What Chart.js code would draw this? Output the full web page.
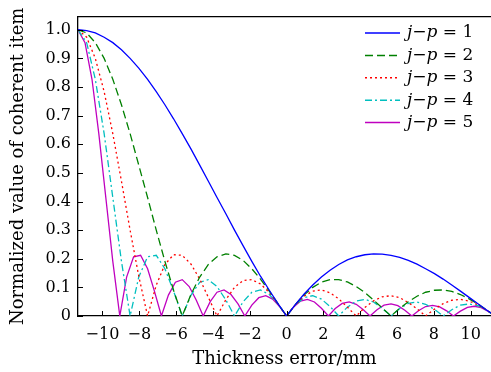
<!DOCTYPE html>
<html>
<head>
<meta charset="utf-8">
<script src="https://cdn.jsdelivr.net/npm/chart.js@4.4.1/dist/chart.umd.min.js"></script>
<style>
  html, body { margin: 0; padding: 0; background: #fff; }
  #chart { display: block; }
</style>
</head>
<body>
<canvas id="chart" width="491" height="372"></canvas>
<script>
// Sample positions (thickness error, mm)
const xGrid24 = [-11.33, -10.86, -10.39, -9.91, -9.44, -8.97, -8.50, -8.03, -7.55, -7.08, -6.61, -6.14,
    -5.67, -5.19, -4.72, -4.25, -3.78, -3.30, -2.83, -2.36, -1.89, -1.42, -0.94, -0.47, 0,
    0.47, 0.94, 1.42, 1.89, 2.36, 2.83, 3.30, 3.78, 4.25, 4.72, 5.19, 5.67, 6.14,
    6.61, 7.08, 7.55, 8.03, 8.50, 8.97, 9.44, 9.91, 10.39, 10.86, 11.33];
const xGrid30 = [-11.33, -10.95, -10.57, -10.20, -9.82, -9.44, -9.06, -8.69, -8.31, -7.93, -7.55, -7.18,
    -6.80, -6.42, -6.04, -5.67, -5.29, -4.91, -4.53, -4.15, -3.78, -3.40, -3.02, -2.64, -2.27,
    -1.89, -1.51, -1.13, -0.76, -0.38, 0, 0.38, 0.76, 1.13, 1.51, 1.89, 2.27, 2.64, 3.02, 3.40,
    3.78, 4.15, 4.53, 4.91, 5.29, 5.67, 6.04, 6.42, 6.80, 7.18, 7.55, 7.93, 8.31, 8.69, 9.06,
    9.44, 9.82, 10.20, 10.57, 10.95, 11.33];

// Normalized coherent item, one list per j-p
const yJp1 = [1, 0.997, 0.989, 0.974, 0.955, 0.930, 0.900, 0.866, 0.827, 0.784, 0.738, 0.689, 0.637,
    0.583, 0.527, 0.471, 0.414, 0.357, 0.300, 0.245, 0.191, 0.139, 0.090, 0.043, 0,
    0.040, 0.076, 0.108, 0.136, 0.160, 0.180, 0.196, 0.207, 0.214, 0.217, 0.216, 0.212,
    0.205, 0.194, 0.181, 0.165, 0.148, 0.129, 0.108, 0.087, 0.065, 0.043, 0.021, 0];
const yJp2 = [1, 0.989, 0.955, 0.900, 0.827, 0.738, 0.637, 0.527, 0.414, 0.300, 0.191, 0.090, 0,
    0.076, 0.136, 0.180, 0.207, 0.217, 0.212, 0.194, 0.165, 0.129, 0.087, 0.043, 0,
    0.040, 0.073, 0.100, 0.118, 0.127, 0.127, 0.119, 0.103, 0.082, 0.056, 0.028, 0,
    0.027, 0.050, 0.069, 0.083, 0.090, 0.091, 0.086, 0.075, 0.060, 0.042, 0.021, 0];
const yJp3 = [1, 0.974, 0.900, 0.784, 0.637, 0.471, 0.300, 0.139, 0,
    0.108, 0.180, 0.214, 0.212, 0.181, 0.129, 0.065, 0,
    0.057, 0.100, 0.124, 0.127, 0.112, 0.082, 0.042, 0,
    0.039, 0.069, 0.087, 0.091, 0.081, 0.060, 0.031, 0,
    0.030, 0.053, 0.067, 0.071, 0.064, 0.047, 0.025, 0,
    0.024, 0.043, 0.055, 0.058, 0.052, 0.039, 0.021, 0];
const yJp4 = [1, 0.955, 0.827, 0.637, 0.414, 0.191, 0,
    0.136, 0.207, 0.212, 0.165, 0.087, 0,
    0.073, 0.118, 0.127, 0.103, 0.056, 0,
    0.050, 0.083, 0.091, 0.075, 0.042, 0,
    0.038, 0.064, 0.071, 0.059, 0.033, 0,
    0.031, 0.052, 0.058, 0.049, 0.027, 0,
    0.026, 0.044, 0.049, 0.041, 0.023, 0,
    0.022, 0.038, 0.042, 0.036, 0.020, 0];
const yJp5 = [1, 0.955, 0.827, 0.637, 0.414, 0.191, 0,
    0.136, 0.207, 0.212, 0.165, 0.087, 0,
    0.073, 0.118, 0.127, 0.103, 0.056, 0,
    0.050, 0.083, 0.091, 0.075, 0.042, 0,
    0.038, 0.064, 0.071, 0.059, 0.033, 0,
    0.031, 0.052, 0.058, 0.049, 0.027, 0,
    0.026, 0.044, 0.049, 0.041, 0.023, 0,
    0.022, 0.038, 0.042, 0.036, 0.020, 0,
    0.019, 0.033, 0.037, 0.032, 0.018, 0,
    0.017, 0.030, 0.034, 0.029, 0.016, 0];

const seriesNames = ['1', '2', '3', '4', '5'];
const xTickValues = [-10, -8, -6, -4, -2, 0, 2, 4, 6, 8, 10];
const yTickValues = [0, 0.1, 0.2, 0.3, 0.4, 0.5, 0.6, 0.7, 0.8, 0.9, 1.0];

const serif = "'DejaVu Serif', serif";

// line styles, in legend order
const seriesStyles = [
    { color: '#0000ff', dash: [] },
    { color: '#008000', dash: [8, 4] },
    { color: '#ff0000', dash: [2, 3] },
    { color: '#00bfbf', dash: [7, 3, 2, 3] },
    { color: '#bf00bf', dash: [] }
];

function toPoints(xs, ys) {
    return xs.map((x, i) => ({ x: x, y: ys[i] }));
}

const seriesData = [
    toPoints(xGrid24, yJp1),
    toPoints(xGrid24, yJp2),
    toPoints(xGrid24, yJp3),
    toPoints(xGrid24, yJp4),
    toPoints(xGrid30, yJp5)
];

/**
 * Top frame line and inward tick marks
 */
const framePlugin = {
    id: 'frame',
    afterDraw(chart) {
        const { ctx, chartArea, scales } = chart;
        ctx.save();
        ctx.strokeStyle = '#000';
        ctx.lineWidth = 1;
        ctx.beginPath();
        xTickValues.forEach(v => {
            const px = Math.round(scales.x.getPixelForValue(v)) + 0.5;
            ctx.moveTo(px, chartArea.bottom);
            ctx.lineTo(px, chartArea.bottom - 5);
        });
        yTickValues.forEach(v => {
            const py = Math.round(scales.y.getPixelForValue(v)) + 0.5;
            ctx.moveTo(chartArea.left, py);
            ctx.lineTo(chartArea.left + 5, py);
        });
        ctx.stroke();
        ctx.lineWidth = 1.3;
        ctx.beginPath();
        ctx.moveTo(chartArea.left, chartArea.top);
        ctx.lineTo(chartArea.right, chartArea.top);
        ctx.stroke();
        ctx.restore();
    }
};

/**
 * Legend in the upper right corner, "j−p = n" with italic j and p
 */
const legendPlugin = {
    id: 'innerLegend',
    afterDraw(chart) {
        const ctx = chart.ctx;
        const x0 = 365, x1 = 400, textX = 407, y0 = 33, rowH = 22.4;
        ctx.save();
        chart.data.datasets.forEach((ds, i) => {
            const y = y0 + i * rowH;
            ctx.strokeStyle = ds.borderColor;
            ctx.lineWidth = 1.5;
            ctx.setLineDash(ds.borderDash || []);
            ctx.beginPath();
            ctx.moveTo(x0, y);
            ctx.lineTo(x1, y);
            ctx.stroke();
            ctx.setLineDash([]);

            const parts = [
                { t: 'j', it: true }, { t: '\u2212', it: false }, { t: 'p', it: true },
                { t: ' = ' + seriesNames[i], it: false }
            ];
            let x = textX;
            ctx.fillStyle = '#000';
            ctx.textBaseline = 'middle';
            parts.forEach(p => {
                ctx.font = (p.it ? 'italic ' : '') + '17px ' + serif;
                ctx.fillText(p.t, x, y);
                x += ctx.measureText(p.t).width;
            });
        });
        ctx.restore();
    }
};

const ctx = document.getElementById('chart').getContext('2d');
new Chart(ctx, {
    type: 'line',
    data: {
        datasets: seriesData.map((pts, i) => ({
            label: 'j-p=' + seriesNames[i],
            data: pts,
            borderColor: seriesStyles[i].color,
            borderDash: seriesStyles[i].dash,
            borderWidth: 1.3,
            pointRadius: 0,
            fill: false,
            tension: 0
        }))
    },
    options: {
        responsive: false,
        animation: false,
        devicePixelRatio: 1,
        events: [],
        layout: { padding: { top: 15, right: 0, left: 0, bottom: 0 } },
        plugins: {
            legend: { display: false },
            tooltip: { enabled: false }
        },
        scales: {
            x: {
                type: 'linear',
                min: -11.33,
                max: 11.1,
                grid: { display: false, drawTicks: false },
                border: { color: '#000', width: 1.3 },
                ticks: {
                    color: '#000',
                    padding: 9,
                    font: { family: serif, size: 16 },
                    callback: v => (v < 0 ? '\u2212' + Math.abs(v) : String(v))
                },
                afterBuildTicks: s => { s.ticks = xTickValues.map(v => ({ value: v })); },
                afterFit: s => { s.height = 56; },
                title: {
                    display: true,
                    text: 'Thickness error/mm',
                    color: '#000',
                    font: { family: serif, size: 18 },
                    padding: { top: 0, bottom: 2 }
                }
            },
            y: {
                min: 0,
                max: 1.046,
                grid: { display: false, drawTicks: false },
                border: { color: '#000', width: 1.3 },
                ticks: {
                    color: '#000',
                    padding: 7,
                    font: { family: serif, size: 16 },
                    callback: v => (v === 0 ? '0' : v.toFixed(1))
                },
                afterBuildTicks: s => { s.ticks = yTickValues.map(v => ({ value: v })); },
                afterFit: s => { s.width = 78; },
                title: {
                    display: true,
                    text: 'Normalized value of coherent item',
                    color: '#000',
                    font: { family: serif, size: 18 },
                    padding: { top: 8, bottom: 0 }
                }
            }
        }
    },
    plugins: [framePlugin, legendPlugin]
});
</script>
</body>
</html>
